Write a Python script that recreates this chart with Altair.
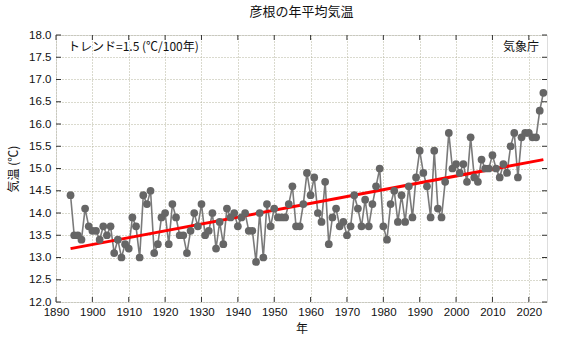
import altair as alt
import pandas as pd

years = list(range(1894, 2025))
temps = [
    14.4, 13.5, 13.5, 13.4, 14.1, 13.7,                     # 1894-1899
    13.6, 13.6, 13.4, 13.7, 13.5, 13.7, 13.1, 13.4, 13.0, 13.3,  # 1900s
    13.2, 13.9, 13.7, 13.0, 14.4, 14.2, 14.5, 13.1, 13.3, 13.9,  # 1910s
    14.0, 13.3, 14.2, 13.9, 13.5, 13.5, 13.1, 13.6, 14.0, 13.7,  # 1920s
    14.2, 13.5, 13.6, 14.0, 13.2, 13.8, 13.3, 14.1, 13.9, 14.0,  # 1930s
    13.7, 13.9, 14.0, 13.6, 13.6, 12.9, 14.0, 13.0, 14.2, 13.7,  # 1940s
    14.1, 13.9, 13.9, 13.9, 14.2, 14.6, 13.7, 13.7, 14.2, 14.9,  # 1950s
    14.4, 14.8, 14.0, 13.8, 14.7, 13.3, 13.9, 14.1, 13.7, 13.8,  # 1960s
    13.5, 13.7, 14.4, 14.1, 13.7, 14.3, 13.7, 14.2, 14.6, 15.0,  # 1970s
    13.7, 13.4, 14.2, 14.5, 13.8, 14.4, 13.8, 14.6, 13.9, 14.8,  # 1980s
    15.4, 14.9, 14.6, 13.9, 15.4, 14.1, 13.9, 14.7, 15.8, 15.0,  # 1990s
    15.1, 14.9, 15.1, 14.7, 15.7, 14.8, 14.7, 15.2, 15.0, 15.0,  # 2000s
    15.3, 15.0, 14.8, 15.1, 14.9, 15.5, 15.8, 14.8, 15.7, 15.8,  # 2010s
    15.8, 15.7, 15.7, 16.3, 16.7,                                # 2020s
]
trend_years = [1894, 2024]
trend_values = [13.2, 15.2]
x_ticks = [1890, 1900, 1910, 1920, 1930, 1940, 1950, 1960, 1970, 1980, 1990, 2000, 2010, 2020]
y_ticks = [12.0, 12.5, 13.0, 13.5, 14.0, 14.5, 15.0, 15.5, 16.0, 16.5, 17.0, 17.5, 18.0]

df = pd.DataFrame({"year": years, "temp": temps})
trend_df = pd.DataFrame({"year": trend_years, "temp": trend_values})
xt_df = pd.DataFrame({"year": x_ticks})
yt_df = pd.DataFrame({"temp": y_ticks})

FONT = "Noto Sans CJK JP"
NUMFONT = "Liberation Sans, Noto Sans CJK JP"
W, H = 491, 267

xscale = alt.Scale(domain=[1890, 2025], nice=False, zero=False)
yscale = alt.Scale(domain=[12, 18], nice=False, zero=False)

x_axis = alt.Axis(values=x_ticks, format="d", labelFontSize=11.5, labelColor="#111",
                  titleFontSize=12, titleFontWeight="normal", titleColor="#111",
                  titlePadding=6, labelPadding=4, tickSize=0, domain=False,
                  labelOverlap=False, labelFlush=False, tickCount=14,
                  grid=True, gridColor="#b4b49c", gridDash=[1, 2], gridWidth=1,
                  labelFont=NUMFONT, titleFont=FONT)
y_axis = alt.Axis(values=y_ticks, format=".1f", labelFontSize=11.5, labelColor="#111",
                  titleFontSize=12, titleFontWeight="normal", titleColor="#111",
                  titlePadding=8, labelPadding=5, tickSize=0, domain=False,
                  labelOverlap=False, labelFlush=False, tickCount=13,
                  grid=True, gridColor="#b4b49c", gridDash=[1, 2], gridWidth=1,
                  labelFont=NUMFONT, titleFont=FONT)

def X():
    return alt.X("year:Q", scale=xscale, title="年", axis=x_axis)

def Y():
    return alt.Y("temp:Q", scale=yscale, title="気温 (℃)", axis=y_axis)

line = alt.Chart(df).mark_line(color="#7a7a7a", strokeWidth=1.6).encode(x=X(), y=Y())
points = alt.Chart(df).mark_circle(size=60, color="#666666", opacity=1).encode(x=X(), y=Y())
trend = alt.Chart(trend_df).mark_line(color="#ff0000", strokeWidth=3).encode(x=X(), y=Y())

xticks_bottom = alt.Chart(xt_df).mark_rule(color="#333", strokeWidth=1).encode(
    x=X(), y=alt.value(H), y2=alt.value(H - 5))
xticks_top = alt.Chart(xt_df).mark_rule(color="#333", strokeWidth=1).encode(
    x=X(), y=alt.value(0), y2=alt.value(5))
yticks_left = alt.Chart(yt_df).mark_rule(color="#333", strokeWidth=1).encode(
    y=Y(), x=alt.value(0), x2=alt.value(5))
yticks_right = alt.Chart(yt_df).mark_rule(color="#333", strokeWidth=1).encode(
    y=Y(), x=alt.value(W), x2=alt.value(W - 5))

trend_text = alt.Chart(pd.DataFrame({"t": ["トレンド=1.5 (℃/100年)"]})).mark_text(
    align="left", baseline="middle", fontSize=12, font=FONT, color="#111").encode(
    text="t:N", x=alt.value(12), y=alt.value(12))
src_text = alt.Chart(pd.DataFrame({"t": ["気象庁"]})).mark_text(
    align="right", baseline="middle", fontSize=12, font=FONT, color="#111").encode(
    text="t:N", x=alt.value(W - 8), y=alt.value(12))

chart = alt.layer(line, trend, points, xticks_bottom, xticks_top, yticks_left, yticks_right,
                  trend_text, src_text).properties(
    width=W, height=H,
    title=alt.TitleParams("彦根の年平均気温", fontSize=13, fontWeight="normal", font=FONT,
                          color="#111", offset=10, anchor="middle"),
    autosize=alt.AutoSizeParams(type="none"),
    padding={"left": 56, "top": 35, "right": 20, "bottom": 37},
).configure_view(
    fill="#ffffdc", stroke="#444", strokeWidth=1
).configure(background="white")

chart.save("out.html", embed_options={"renderer": "svg", "actions": False})
